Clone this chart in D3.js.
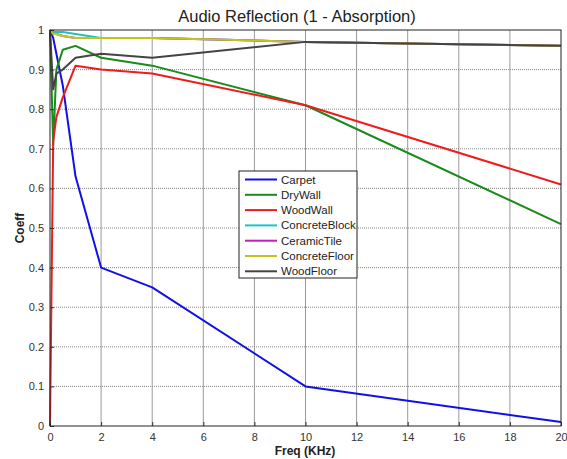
<!DOCTYPE html>
<html>
<head>
<meta charset="utf-8">
<script src="https://cdn.jsdelivr.net/npm/d3@7"></script>
<style>
  body { margin: 0; background: #fff; }
  svg { font-family: "Liberation Sans", Arial, sans-serif; }
  .tick text { font-size: 11px; fill: #333; }
  .axislabel { font-size: 12px; font-weight: bold; fill: #222; }
  .title { font-size: 16.5px; fill: #222; }
  .legend_text { font-size: 11.5px; fill: #222; }
</style>
</head>
<body>
<div id="chart"></div>
<script>
// frequencies in KHz
var freq = [0, 0.125, 0.25, 0.5, 1, 2, 4, 10, 20];

var carpet        = [1.00, 0.98, 0.94, 0.86, 0.63, 0.40, 0.35, 0.10, 0.01];
var dryWall       = [1.00, 0.71, 0.90, 0.95, 0.96, 0.93, 0.91, 0.81, 0.51];
var woodWall      = [0.00, 0.72, 0.78, 0.83, 0.91, 0.90, 0.89, 0.81, 0.61];
var concreteBlock = [1.00, 0.995, 0.995, 0.995, 0.99, 0.98, 0.98, 0.97, 0.96];
var ceramicTile   = [1.00, 0.99, 0.99, 0.985, 0.98, 0.98, 0.98, 0.97, 0.96];
var concreteFloor = [1.00, 0.99, 0.99, 0.985, 0.98, 0.98, 0.98, 0.97, 0.96];
var woodFloor     = [1.00, 0.85, 0.89, 0.90, 0.93, 0.94, 0.93, 0.97, 0.96];

var names  = ["Carpet", "DryWall", "WoodWall", "ConcreteBlock", "CeramicTile", "ConcreteFloor", "WoodFloor"];
var colors = ["#1010e8", "#1a8a1a", "#ee1c1c", "#1ec4c4", "#c21ec2", "#c4c41e", "#444444"];
var values = [carpet, dryWall, woodWall, concreteBlock, ceramicTile, concreteFloor, woodFloor];

var xTicks = [0, 2, 4, 6, 8, 10, 12, 14, 16, 18, 20];
var yTicks = [0, 0.1, 0.2, 0.3, 0.4, 0.5, 0.6, 0.7, 0.8, 0.9, 1];

var draw = function(){
  var svg = d3.select("#chart").append("svg").attr("width", 567).attr("height", 459);

  var x = d3.scaleLinear().domain([0, 20]).range([50, 561]);
  var y = d3.scaleLinear().domain([0, 1]).range([426, 30]);

  // grid
  svg.append("g").selectAll("line").data(xTicks.slice(1, -1)).enter().append("line")
    .attr("x1", function(d){ return x(d); }).attr("x2", function(d){ return x(d); })
    .attr("y1", 30).attr("y2", 426)
    .attr("stroke", "#9a9a9a").attr("stroke-width", 1);
  svg.append("g").selectAll("line").data(yTicks.slice(1, -1)).enter().append("line")
    .attr("y1", function(d){ return y(d); }).attr("y2", function(d){ return y(d); })
    .attr("x1", 50).attr("x2", 561)
    .attr("stroke", "#888").attr("stroke-width", 1).attr("stroke-dasharray", "1,1");

  var line = d3.line()
    .x(function(d){ return x(d[0]); })
    .y(function(d){ return y(d[1]); });

  for (var k = 0; k < values.length; k++) {
    svg.append("path").datum(d3.zip(freq, values[k]))
      .attr("fill", "none")
      .attr("stroke", colors[k])
      .attr("stroke-width", 2)
      .attr("stroke-linejoin", "round")
      .attr("d", line);
  }

  // axes
  var xAxis = d3.axisBottom(x).tickValues(xTicks).tickSizeInner(-4).tickSizeOuter(0).tickPadding(7);
  var yAxis = d3.axisLeft(y).tickValues(yTicks).tickSizeInner(-4).tickSizeOuter(0).tickPadding(6)
    .tickFormat(function(d){ return d === 1 ? "1" : d === 0 ? "0" : d3.format(".1f")(d); });

  svg.append("g").attr("transform", "translate(0,426)").call(xAxis);
  svg.append("g").attr("transform", "translate(50,0)").call(yAxis);
  svg.selectAll(".domain").remove();
  svg.selectAll(".tick line").attr("stroke", "#333");

  svg.append("rect").attr("x", 50).attr("y", 30).attr("width", 511).attr("height", 396)
    .attr("fill", "none").attr("stroke", "#222").attr("stroke-width", 1);

  svg.append("text").attr("class", "title").attr("text-anchor", "middle")
    .attr("x", 297).attr("y", 22).text("Audio Reflection (1 - Absorption)");
  svg.append("text").attr("class", "axislabel").attr("text-anchor", "middle")
    .attr("x", 305).attr("y", 455).text("Freq (KHz)");
  svg.append("text").attr("class", "axislabel").attr("text-anchor", "middle")
    .attr("transform", "translate(24,228) rotate(-90)").text("Coeff");

  // legend
  var lg = svg.append("g");
  lg.append("rect").attr("x", 239).attr("y", 171).attr("width", 118).attr("height", 107)
    .attr("fill", "#fff").attr("stroke", "#222").attr("stroke-width", 1);
  var rows = lg.selectAll(".row").data(names).enter().append("g")
    .attr("transform", function(d, i){ return "translate(0," + (179.5 + i * 15.3) + ")"; });
  rows.append("line").attr("x1", 245).attr("x2", 277).attr("y1", 0).attr("y2", 0)
    .attr("stroke", function(d, i){ return colors[i]; }).attr("stroke-width", 2);
  rows.append("text").attr("class", "legend_text").attr("x", 281).attr("dy", "0.35em")
    .text(function(d){ return d; });
};

window.onload = function(){ draw(); };
</script>
</body>
</html>
